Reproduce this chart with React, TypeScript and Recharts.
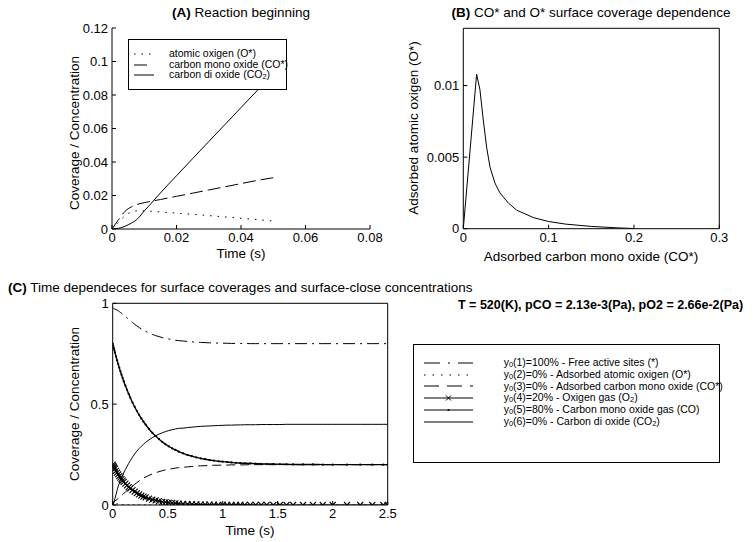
import React from 'react';
import { LineChart, Line, XAxis, YAxis, Legend } from 'recharts';

const FONT = '"Liberation Sans", Arial, Helvetica, sans-serif';

// (A) Reaction beginning
const timeA = [0, 0.002, 0.004, 0.006, 0.008, 0.01, 0.012, 0.015, 0.02, 0.025, 0.03, 0.035, 0.04, 0.045, 0.05];
const atomicOxygenA = [0, 0.004, 0.0078, 0.0102, 0.0109, 0.0108, 0.0106, 0.0102, 0.0095, 0.0088, 0.008, 0.0072, 0.0064, 0.0056, 0.0048];
const monoOxideA = [0, 0.0055, 0.0105, 0.0132, 0.0148, 0.0157, 0.0165, 0.0176, 0.0195, 0.0214, 0.0233, 0.0252, 0.0271, 0.029, 0.0306];
const diOxideA = [0, 0.0004, 0.0016, 0.0035, 0.0062, 0.0108, 0.015, 0.0215, 0.0318, 0.042, 0.0522, 0.0623, 0.0725, 0.0826, 0.0926];
const legendA = ['atomic oxigen (O*)', 'carbon mono oxide (CO*)', 'carbon di oxide (CO_2)'];
const xTicksA = [0, 0.02, 0.04, 0.06, 0.08];
const yTicksA = [0, 0.02, 0.04, 0.06, 0.08, 0.1, 0.12];

// (B) O* against CO*
const coverageCO = [0, 0.0156, 0.0195, 0.0234, 0.0273, 0.0313, 0.037, 0.0429, 0.0527, 0.0624, 0.082, 0.1, 0.12, 0.15, 0.18, 0.2];
const coverageO = [0, 0.0108, 0.0097, 0.0076, 0.0057, 0.0043, 0.0032, 0.0025, 0.0018, 0.0013, 0.00078, 0.0005, 0.00032, 0.00016, 0.00006, 0.00001];
const xTicksB = [0, 0.1, 0.2, 0.3];
const yTicksB = [0, 0.005, 0.01];

// (C) time dependences
const timeC = [
  0, 0.005, 0.01, 0.015, 0.02, 0.03, 0.04, 0.05, 0.06, 0.07, 0.08,
  0.09, 0.1, 0.115, 0.13, 0.145, 0.16, 0.18, 0.2, 0.22, 0.24, 0.26,
  0.28, 0.3, 0.33, 0.36, 0.39, 0.42, 0.45, 0.48, 0.51, 0.54, 0.57,
  0.6, 0.64, 0.68, 0.72, 0.76, 0.8, 0.84, 0.88, 0.92, 0.96, 1.0,
  1.04, 1.08, 1.12, 1.16, 1.2, 1.25, 1.3, 1.35, 1.4, 1.46, 1.52,
  1.58, 1.64, 1.73, 1.82, 1.91, 2.0, 2.13, 2.25, 2.36, 2.46, 2.5,
];
const freeSites = [
  0.98, 0.977, 0.973, 0.972, 0.971, 0.969, 0.966, 0.963, 0.959, 0.955, 0.951,
  0.946, 0.941, 0.935, 0.928, 0.921, 0.914, 0.905, 0.896, 0.888, 0.88, 0.873,
  0.867, 0.861, 0.853, 0.846, 0.84, 0.835, 0.83, 0.826, 0.823, 0.82, 0.817,
  0.815, 0.813, 0.811, 0.809, 0.807, 0.806, 0.805, 0.804, 0.803, 0.803, 0.802,
  0.802, 0.801, 0.801, 0.801, 0.801, 0.8, 0.8, 0.8, 0.8, 0.8, 0.8,
  0.8, 0.8, 0.8, 0.8, 0.8, 0.8, 0.8, 0.8, 0.8, 0.8, 0.8,
];
const adsorbedO = [
  0, 0.009, 0.0108, 0.0103, 0.0095, 0.008, 0.0064, 0.0048, 0.0038, 0.003, 0.0025,
  0.002, 0.0017, 0.0014, 0.0012, 0.001, 0.0009, 0.0008, 0.0007, 0.0006, 0.0005, 0.00045,
  0.0004, 0.00037, 0.00033, 0.0003, 0.00028, 0.00026, 0.00024, 0.00022, 0.0002, 0.00018, 0.00016,
  0.00015, 0.00013, 0.00012, 0.0001, 0.00009, 0.00008, 0.00007, 0.00006, 0.00005, 0.00004, 0.00004,
  0.00003, 0.00003, 0.00003, 0.00003, 0.00003, 0.00002, 0.00002, 0.00002, 0.00002, 0.00002, 0.00002,
  0.00002, 0.00002, 0.00002, 0.00002, 0.00001, 0.00001, 0.00001, 0.00001, 0.00001, 0.00001, 0.00001,
];
const adsorbedCO = [
  0, 0.006, 0.0158, 0.0176, 0.0196, 0.0235, 0.028, 0.032, 0.037, 0.042, 0.047,
  0.052, 0.057, 0.064, 0.071, 0.078, 0.085, 0.094, 0.103, 0.111, 0.119, 0.126,
  0.133, 0.139, 0.147, 0.154, 0.16, 0.165, 0.17, 0.174, 0.177, 0.18, 0.183,
  0.185, 0.187, 0.189, 0.191, 0.193, 0.194, 0.195, 0.196, 0.197, 0.197, 0.198,
  0.198, 0.199, 0.199, 0.199, 0.199, 0.2, 0.2, 0.2, 0.2, 0.2, 0.2,
  0.2, 0.2, 0.2, 0.2, 0.2, 0.2, 0.2, 0.2, 0.2, 0.2, 0.2,
];
const oxygenGas = [
  0.2, 0.1945, 0.189, 0.184, 0.179, 0.169, 0.16, 0.152, 0.143, 0.136, 0.128,
  0.121, 0.115, 0.106, 0.097, 0.089, 0.082, 0.074, 0.066, 0.059, 0.053, 0.047,
  0.042, 0.038, 0.032, 0.027, 0.023, 0.019, 0.016, 0.014, 0.012, 0.01, 0.0085,
  0.0071, 0.0057, 0.0046, 0.0037, 0.0029, 0.0024, 0.0019, 0.0015, 0.0012, 0.001, 0.0008,
  0.0006, 0.0005, 0.0004, 0.0003, 0.0002, 0.0002, 0.0001, 0.0001, 0.0001, 0, 0,
  0, 0, 0, 0, 0, 0, 0, 0, 0, 0, 0,
];
const monoOxideGas = [
  0.8, 0.789, 0.778, 0.768, 0.757, 0.737, 0.717, 0.699, 0.68, 0.663, 0.646,
  0.63, 0.614, 0.592, 0.571, 0.551, 0.532, 0.508, 0.486, 0.466, 0.447, 0.429,
  0.413, 0.398, 0.377, 0.358, 0.342, 0.327, 0.313, 0.301, 0.291, 0.281, 0.273,
  0.265, 0.256, 0.248, 0.242, 0.236, 0.231, 0.227, 0.223, 0.22, 0.217, 0.215,
  0.213, 0.211, 0.209, 0.208, 0.207, 0.206, 0.205, 0.204, 0.203, 0.203, 0.202,
  0.202, 0.201, 0.201, 0.201, 0.2, 0.2, 0.2, 0.2, 0.2, 0.2, 0.2,
];
const diOxideGas = [
  0, 0.0008, 0.0108, 0.0215, 0.0318, 0.0522, 0.0725, 0.0926, 0.108, 0.122, 0.135,
  0.147, 0.159, 0.176, 0.191, 0.206, 0.22, 0.237, 0.253, 0.267, 0.28, 0.291,
  0.301, 0.311, 0.323, 0.334, 0.343, 0.351, 0.358, 0.364, 0.369, 0.373, 0.377,
  0.38, 0.381, 0.384, 0.386, 0.388, 0.39, 0.391, 0.392, 0.393, 0.394, 0.395,
  0.396, 0.396, 0.397, 0.397, 0.398, 0.398, 0.398, 0.399, 0.399, 0.399, 0.399,
  0.4, 0.4, 0.4, 0.4, 0.4, 0.4, 0.4, 0.4, 0.4, 0.4, 0.4,
];
const legendC = [
  'y_0(1)=100% - Free active sites (*)',
  'y_0(2)=0% - Adsorbed atomic oxigen (O*)',
  'y_0(3)=0% - Adsorbed carbon mono oxide (CO*)',
  'y_0(4)=20% - Oxigen gas (O_2)',
  'y_0(5)=80% - Carbon mono oxide gas (CO)',
  'y_0(6)=0% - Carbon di oxide (CO_2)',
];
const xTicksC = [0, 0.5, 1, 1.5, 2, 2.5];
const yTicksC = [0, 0.5, 1];

const dataA = timeA.map((t, i) => ({ t, o: atomicOxygenA[i], co: monoOxideA[i], co2: diOxideA[i] }));
const dataB = coverageCO.map((co, i) => ({ co, o: coverageO[i] }));
const dataC = timeC.map((t, i) => ({
  t, free: freeSites[i], o: adsorbedO[i], co: adsorbedCO[i],
  o2: oxygenGas[i], cogas: monoOxideGas[i], co2: diOxideGas[i],
}));

const tickStyle = { fill: '#000', fontSize: 13, fontFamily: FONT };
const lineStyle = { stroke: '#000' };

// "_x" -> subscript
const withSub = (s: string) =>
  s.split(/_(\w)/).map((part, i) =>
    i % 2 ? <sub key={i} style={{ fontSize: '0.7em', lineHeight: 0, verticalAlign: '-0.15em' }}>{part}</sub> : <span key={i}>{part}</span>
  );

const XMark = (p: any) => {
  const { cx, cy, index } = p;
  if (cx == null || cy == null) return <g key={`xm${index}`} />;
  const s = 3;
  return (
    <path key={`xm${index}`} d={`M${cx - s},${cy - s}L${cx + s},${cy + s}M${cx - s},${cy + s}L${cx + s},${cy - s}`}
      stroke="#000" strokeWidth={1.1} fill="none" />
  );
};
const SmallDot = (p: any) => {
  const { cx, cy, index } = p;
  if (cx == null || cy == null) return <g key={`sd${index}`} />;
  return <circle key={`sd${index}`} cx={cx} cy={cy} r={1.1} fill="#000" />;
};

type Item = { label: string; dash?: string; marker?: 'x' | 'dot' };

const LegendBox = ({ items, width, height, sampleX, sampleW, textX, firstRow, rowGap, fontSize }: {
  items: Item[]; width: number; height: number; sampleX: number; sampleW: number;
  textX: number; firstRow: number; rowGap: number; fontSize: number;
}) => (
  <div style={{ position: 'relative', width, height, boxSizing: 'border-box', border: '1px solid #000',
    background: '#fff', fontFamily: FONT, fontSize, color: '#000' }}>
    {items.map((it, i) => {
      const y = firstRow + i * rowGap;
      const m = sampleW / 2;
      return (
        <React.Fragment key={i}>
          <svg width={sampleW} height={8} style={{ position: 'absolute', left: sampleX, top: y - 4 }}>
            <line x1={0} y1={4} x2={sampleW} y2={4} stroke="#000" strokeWidth={1} strokeDasharray={it.dash} />
            {it.marker === 'x' && <path d={`M${m - 2.5},1.5L${m + 2.5},6.5M${m - 2.5},6.5L${m + 2.5},1.5`} stroke="#000" />}
            {it.marker === 'dot' && <circle cx={m} cy={4} r={1.1} fill="#000" />}
          </svg>
          <div style={{ position: 'absolute', left: textX, top: y - fontSize * 0.55, whiteSpace: 'nowrap', lineHeight: 1 }}>
            {withSub(it.label)}
          </div>
        </React.Fragment>
      );
    })}
  </div>
);

const Text = ({ x, y, size = 13.5, bold, rotate, anchor = 'middle', children }: any) => (
  <div style={{
    position: 'absolute', left: x, top: y, whiteSpace: 'nowrap', fontFamily: FONT, fontSize: size, color: '#000',
    fontWeight: bold ? 'bold' : 'normal', lineHeight: 1,
    transform: `translate(${anchor === 'middle' ? '-50%' : '0'},-50%)${rotate ? ' rotate(-90deg)' : ''}`,
    transformOrigin: anchor === 'middle' ? 'center' : 'left center',
  }}>{children}</div>
);

const App = () => (
  <div style={{ position: 'absolute', left: 0, top: 0, width: 754, height: 542, background: '#fff', overflow: 'hidden' }}>
    {/* (A) */}
    <div style={{ position: 'absolute', left: 0, top: 0 }}>
      <LineChart width={400} height={270} data={dataA} margin={{ top: 28, right: 30, bottom: 11, left: 52 }}>
        <XAxis dataKey="t" type="number" domain={[0, 0.08]} ticks={xTicksA} allowDataOverflow height={30}
          tick={tickStyle} tickSize={-4} tickMargin={8} axisLine={lineStyle} tickLine={lineStyle} />
        <YAxis type="number" domain={[0, 0.12]} ticks={yTicksA} allowDataOverflow width={60}
          tick={tickStyle} tickSize={-4} tickMargin={8} axisLine={lineStyle} tickLine={lineStyle} />
        <Line type="monotone" dataKey="o" stroke="#000" strokeWidth={1} strokeDasharray="1.5 6" dot={false} isAnimationActive={false} />
        <Line type="monotone" dataKey="co" stroke="#000" strokeWidth={1} strokeDasharray="13 5" dot={false} isAnimationActive={false} />
        <Line type="monotone" dataKey="co2" stroke="#000" strokeWidth={1} dot={false} isAnimationActive={false} />
        <Legend layout="vertical" align="center" verticalAlign="middle"
          wrapperStyle={{ left: 128, top: 39, width: 159, height: 51 }}
          content={() => (
            <LegendBox width={159} height={51} sampleX={5} sampleW={20} textX={40} firstRow={14} rowGap={10.5} fontSize={10.5}
              items={[{ label: legendA[0], dash: '1.5 6' }, { label: legendA[1], dash: '13 7' }, { label: legendA[2] }]} />
          )} />
      </LineChart>
    </div>

    {/* (B) */}
    <div style={{ position: 'absolute', left: 380, top: 0 }}>
      <LineChart width={374} height={270} data={dataB} margin={{ top: 27.3, right: 33.7, bottom: 11.3, left: 23.3 }}>
        <XAxis dataKey="co" type="number" domain={[0, 0.3]} ticks={xTicksB} allowDataOverflow height={30}
          tick={tickStyle} tickSize={-4} tickMargin={8} axisLine={lineStyle} tickLine={lineStyle} />
        <XAxis xAxisId="top" orientation="top" type="number" domain={[0, 0.3]} ticks={xTicksB} height={1}
          tick={false} tickSize={-4} axisLine={lineStyle} tickLine={lineStyle} />
        <YAxis type="number" domain={[0, 0.014]} ticks={yTicksB} allowDataOverflow width={60}
          tick={tickStyle} tickSize={-4} tickMargin={8} axisLine={lineStyle} tickLine={lineStyle} />
        <YAxis yAxisId="right" orientation="right" type="number" domain={[0, 0.014]} ticks={yTicksB} width={1}
          tick={false} tickSize={-4} axisLine={lineStyle} tickLine={lineStyle} />
        <Line type="linear" dataKey="o" stroke="#000" strokeWidth={1} dot={false} isAnimationActive={false} />
      </LineChart>
    </div>

    {/* (C) */}
    <div style={{ position: 'absolute', left: 0, top: 290 }}>
      <LineChart width={754} height={252} data={dataC} margin={{ top: 12.3, right: 365.3, bottom: 7, left: 52.7 }}>
        <XAxis dataKey="t" type="number" domain={[0, 2.5]} ticks={xTicksC} allowDataOverflow height={30}
          tick={tickStyle} tickSize={-4} tickMargin={8} axisLine={lineStyle} tickLine={lineStyle} />
        <XAxis xAxisId="top" orientation="top" type="number" domain={[0, 2.5]} ticks={xTicksC} height={1}
          tick={false} tickSize={-4} axisLine={lineStyle} tickLine={lineStyle} />
        <YAxis type="number" domain={[0, 1]} ticks={yTicksC} allowDataOverflow width={60}
          tick={tickStyle} tickSize={-4} tickMargin={8} axisLine={lineStyle} tickLine={lineStyle} />
        <YAxis yAxisId="right" orientation="right" type="number" domain={[0, 1]} ticks={yTicksC} width={1}
          tick={false} tickSize={-4} axisLine={lineStyle} tickLine={lineStyle} />
        <Line type="monotone" dataKey="free" stroke="#000" strokeWidth={1} strokeDasharray="12 5 2 5" dot={false} isAnimationActive={false} />
        <Line type="monotone" dataKey="o" stroke="#000" strokeWidth={1} strokeDasharray="1.5 4" dot={false} isAnimationActive={false} />
        <Line type="monotone" dataKey="co" stroke="#000" strokeWidth={1} strokeDasharray="9 5" dot={false} isAnimationActive={false} />
        <Line type="monotone" dataKey="o2" stroke="#000" strokeWidth={1.2} dot={XMark} isAnimationActive={false} />
        <Line type="monotone" dataKey="cogas" stroke="#000" strokeWidth={1.4} dot={SmallDot} isAnimationActive={false} />
        <Line type="monotone" dataKey="co2" stroke="#000" strokeWidth={1} dot={false} isAnimationActive={false} />
        <Legend layout="vertical" align="center" verticalAlign="middle"
          wrapperStyle={{ left: 412.7, top: 54, width: 307, height: 119 }}
          content={() => (
            <LegendBox width={307} height={119} sampleX={10} sampleW={49} textX={90} firstRow={17.7} rowGap={11.8} fontSize={10.5}
              items={[
                { label: legendC[0], dash: '16 8 2 8' },
                { label: legendC[1], dash: '1.5 7' },
                { label: legendC[2], dash: '15 8' },
                { label: legendC[3], marker: 'x' },
                { label: legendC[4], marker: 'dot' },
                { label: legendC[5] },
              ]} />
          )} />
      </LineChart>
    </div>

    {/* titles and axis labels */}
    <Text x={241} y={13}><b>(A)</b> Reaction beginning</Text>
    <Text x={75} y={133} rotate>Coverage / Concentration</Text>
    <Text x={241} y={254}>Time (s)</Text>

    <Text x={591} y={13}><b>(B)</b> CO* and O* surface coverage dependence</Text>
    <Text x={414} y={128} rotate>Adsorbed atomic oxigen (O*)</Text>
    <Text x={591} y={257}>Adsorbed carbon mono oxide (CO*)</Text>

    <Text x={8} y={288} anchor="start"><b>(C)</b> Time dependeces for surface coverages and surface-close concentrations</Text>
    <Text x={458} y={305} anchor="start" bold size={12.5}>T = 520(K), pCO = 2.13e-3(Pa), pO2 = 2.66e-2(Pa)</Text>
    <Text x={75} y={404} rotate>Coverage / Concentration</Text>
    <Text x={250} y={531}>Time (s)</Text>
  </div>
);

export default App;
